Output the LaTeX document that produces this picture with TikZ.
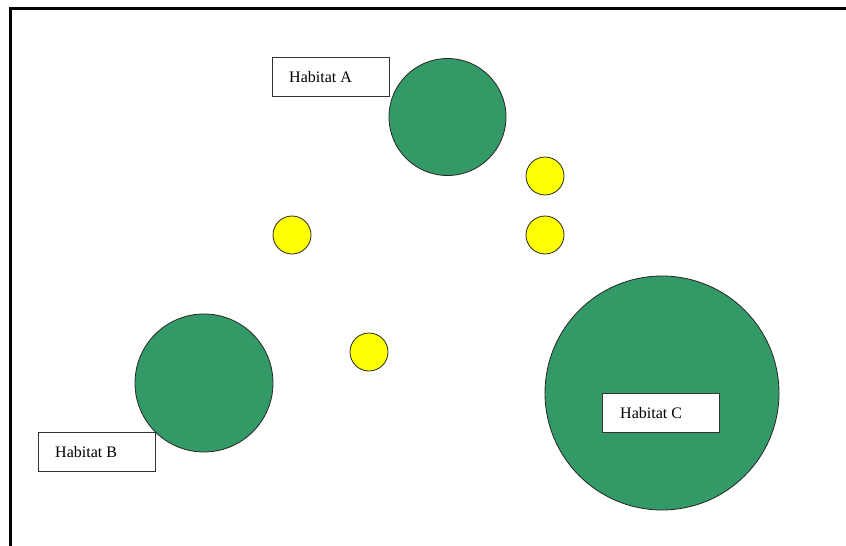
\documentclass[tikz,border=0pt]{standalone}
\usepackage{fontspec}
\setmainfont{Liberation Serif}
\definecolor{habgreen}{RGB}{51,153,102}
\definecolor{habyellow}{RGB}{255,255,0}
\begin{document}
\begin{tikzpicture}[x=1pt,y=-1pt,
  habitat/.style={circle,draw=black!85,line width=0.8pt,fill=habgreen,inner sep=0pt},
  patch/.style={circle,draw=black!85,line width=0.8pt,fill=habyellow,inner sep=0pt,minimum size=38pt},
  labelbox/.style={rectangle,draw=black!80,line width=0.8pt,fill=white,minimum width=117pt,minimum height=39pt,inner sep=0pt},
  labeltext/.style={anchor=west,inner sep=0pt,font=\fontsize{16}{18}\selectfont}]
\useasboundingbox (0,0) rectangle (846,546);
\draw[line width=2.5pt,black] (10.7,546) -- (10.7,8.7) -- (846,8.7);
% habitats
\node[habitat,minimum size=117pt] (hA) at (447.5,117) {};
\node[habitat,minimum size=138pt] (hB) at (204,383) {};
\node[habitat,minimum size=234pt] (hC) at (662,393) {};
% patches
\node[patch] (p1) at (545,176) {};
\node[patch] (p2) at (545,235) {};
\node[patch] (p3) at (292,235) {};
\node[patch] (p4) at (369,352) {};
% labels
\node[labelbox] (lA) at (330.5,77) {};
\node[labeltext] (tA) at (289,77) {Habitat A};
\node[labelbox] (lB) at (97,452) {};
\node[labeltext] (tB) at (55,452) {Habitat B};
\node[labelbox] (lC) at (661,413) {};
\node[labeltext] (tC) at (620,413) {Habitat C};
\end{tikzpicture}
\end{document}
